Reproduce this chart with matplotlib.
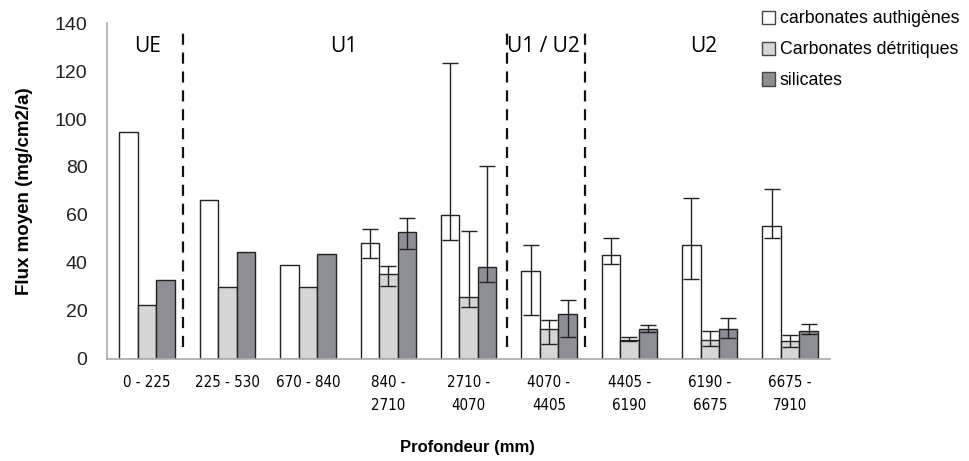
import numpy as np
import matplotlib
matplotlib.use('Agg')
import matplotlib.pyplot as plt
from matplotlib.patches import Patch
from matplotlib import font_manager

categories = ['0 - 225', '225 - 530', '670 - 840', '840 -\n2710', '2710 -\n4070',
              '4070 -\n4405', '4405 -\n6190', '6190 -\n6675', '6675 -\n7910']
series_names = ['carbonates authigènes', 'Carbonates détritiques', 'silicates']

# mean flux per depth interval
authi = [94.5, 66.2, 38.9, 48.2, 60.1, 36.4, 43.2, 47.6, 55.3]
detri = [22.3, 29.7, 29.7, 35.2, 25.7, 12.2, 7.9, 7.9, 7.4]
silic = [32.7, 44.4, 43.7, 52.7, 38.3, 18.5, 12.2, 12.2, 11.7]

# error bar extremes (low, high); None where no error bar
authi_err = [None, None, None, (41.8, 53.9), (49.4, 123.4), (18.1, 47.3), (39.4, 50.3), (33.4, 66.9), (50.3, 70.6)]
detri_err = [None, None, None, (30.2, 38.7), (21.6, 53.3), (6.0, 16.0), (7.4, 9.0), (5.3, 11.4), (4.8, 9.7)]
silic_err = [None, None, None, (45.7, 58.8), (32.0, 80.5), (9.0, 24.6), (10.9, 14.2), (8.4, 17.1), (10.4, 14.6)]

units = ['UE', 'U1', 'U1 / U2', 'U2']
unit_pos = [0.0, 2.44, 4.93, 6.92]
boundaries = [0.44, 4.48, 5.45]

fig = plt.figure(figsize=(9.7, 4.61), dpi=100)
ax = fig.add_axes([0.1103, 0.2223, 0.7457, 0.7272])

x = np.arange(len(categories))
w = 0.23
colors = ['white', '#d6d6d6', '#8e8e96']
for i, (vals, errs, c) in enumerate(zip([authi, detri, silic], [authi_err, detri_err, silic_err], colors)):
    xi = x + (i - 1) * w
    ax.bar(xi, vals, width=w, color=c, edgecolor='#222222', linewidth=1.0, zorder=2)
    idx = [k for k, e in enumerate(errs) if e is not None]
    lo = [vals[k] - errs[k][0] for k in idx]
    hi = [errs[k][1] - vals[k] for k in idx]
    ax.errorbar(xi[idx], [vals[k] for k in idx], yerr=[lo, hi], fmt='none',
                ecolor='#222222', elinewidth=1.0, capsize=6, capthick=1.0, zorder=3)

for b in boundaries:
    ax.plot([b, b], [4.8, 137.5], color='#111111', lw=1.6, linestyle=(0, (5, 3.5)), zorder=1)

for u, p in zip(units, unit_pos):
    ax.text(p, 130.5, u, ha='center', va='center', fontsize=15, family=['Open Sans', 'DejaVu Sans'])

ax.set_xlim(-0.5, 8.5)
ax.set_ylim(0, 140)
ax.set_yticks(range(0, 141, 20))
ax.set_xticks(x)
narrow = font_manager.FontProperties(family=['DejaVu Sans'], stretch='condensed', size=10.8)
ax.set_xticklabels(categories, fontproperties=narrow, linespacing=1.65)
ax.tick_params(axis='y', length=0, labelsize=14, labelcolor='#222222', pad=14)
ax.tick_params(axis='x', length=0, pad=12)
for lab in ax.get_yticklabels():
    lab.set_family(['Liberation Sans', 'DejaVu Sans'])

for s in ['top', 'right']:
    ax.spines[s].set_visible(False)
for s in ['left', 'bottom']:
    ax.spines[s].set_color('#aaaaaa')
    ax.spines[s].set_linewidth(1.2)

ax.set_ylabel('Flux moyen (mg/cm2/a)', fontsize=13.5, fontweight='bold',
              family=['Liberation Sans', 'DejaVu Sans'], labelpad=16)
fig.text(0.482, 0.03, 'Profondeur (mm)', ha='center', va='center', fontsize=12,
         fontweight='bold', family=['Liberation Sans', 'DejaVu Sans'])

handles = [Patch(facecolor=c, edgecolor='#444444', linewidth=1.0) for c in colors]
fig.legend(handles, series_names, loc='upper left', bbox_to_anchor=(0.769, 1.012),
           frameon=False, handlelength=0.75, handleheight=0.75, handletextpad=0.25,
           labelspacing=0.78, prop={'family': ['Liberation Sans', 'DejaVu Sans'], 'size': 12.8})

fig.savefig('out.png', dpi=100)
